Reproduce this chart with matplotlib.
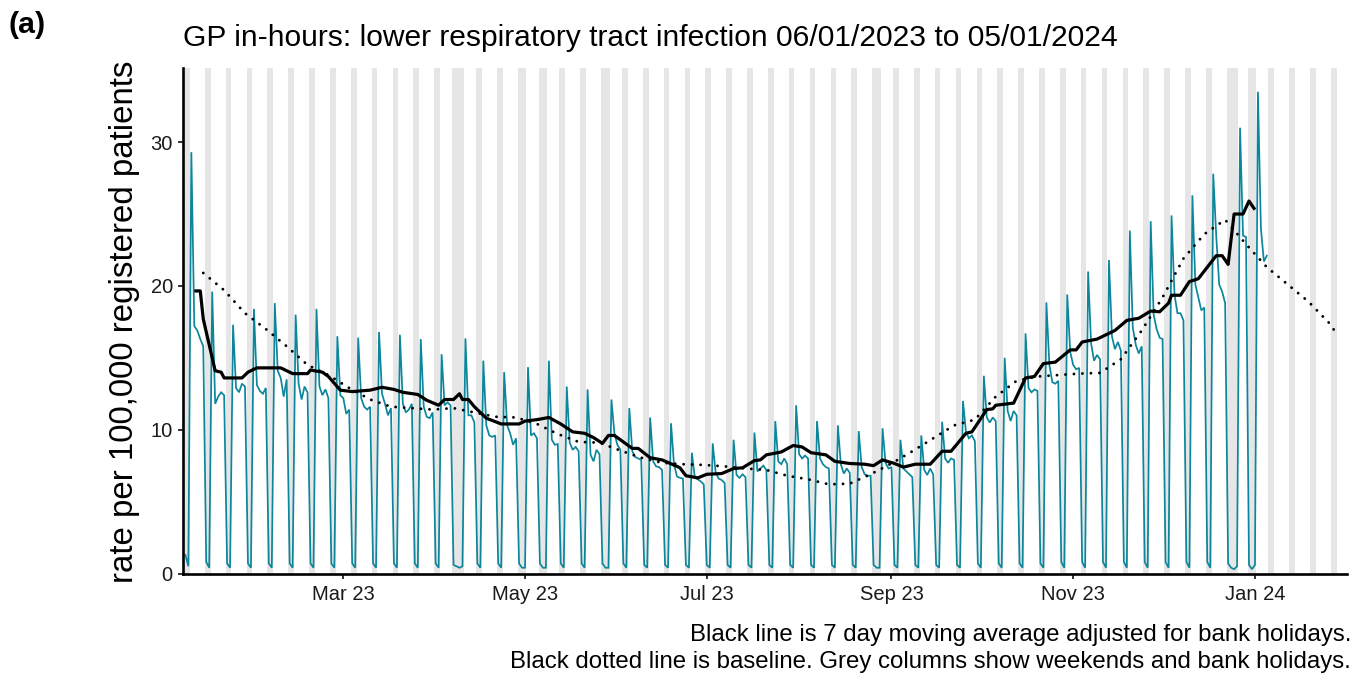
import numpy as np
import pandas as pd
import matplotlib
matplotlib.use("Agg")
import matplotlib.pyplot as plt
import matplotlib.dates as mdates

plt.rcParams['font.family'] = ['Liberation Sans', 'DejaVu Sans']

# ---------------- data ----------------
title = "GP in-hours: lower respiratory tract infection 06/01/2023 to 05/01/2024"
y_label = "rate per 100,000 registered patients"
footnote1 = "Black line is 7 day moving average adjusted for bank holidays."
footnote2 = "Black dotted line is baseline. Grey columns show weekends and bank holidays."
panel_tag = "(a)"

series_start = "2023-01-07"
rate_first_weekend = [1.3, 0.5]          # Sat 7 Jan, Sun 8 Jan 2023
# daily rate, one row per week: Mon, Tue, Wed, Thu, Fri, Sat, Sun
rate_weeks = [
    [29.3, 17.2, 16.9, 16.3, 15.8, 0.8, 0.4],   # 09 Jan
    [19.6, 11.8, 12.3, 12.6, 12.4, 0.7, 0.4],
    [17.3, 12.9, 12.6, 13.2, 13.0, 0.7, 0.4],
    [18.4, 13.1, 12.7, 12.5, 12.9, 0.7, 0.4],
    [18.8, 14.1, 13.6, 12.3, 13.5, 0.7, 0.4],   # 06 Feb
    [18.0, 13.2, 12.1, 13.0, 12.6, 0.7, 0.4],
    [18.4, 13.0, 12.4, 12.8, 12.2, 0.7, 0.4],
    [16.5, 12.4, 12.2, 11.1, 11.4, 0.7, 0.4],
    [16.4, 12.2, 11.6, 11.4, 11.6, 0.7, 0.4],   # 06 Mar
    [16.8, 12.5, 11.8, 11.0, 11.5, 0.7, 0.4],
    [16.6, 11.8, 11.2, 11.4, 11.8, 0.7, 0.4],
    [16.3, 11.6, 10.9, 10.8, 11.2, 0.7, 0.4],
    [15.25, 11.7, 11.9, 11.7, 0.6, 0.5, 0.4],   # 03 Apr
    [0.5, 16.35, 11.0, 11.0, 10.5, 0.7, 0.4],
    [14.8, 10.3, 9.6, 9.5, 9.6, 0.7, 0.4],
    [14.0, 10.3, 9.75, 8.95, 9.4, 0.7, 0.4],
    [0.4, 14.35, 9.6, 9.75, 9.4, 0.7, 0.4],     # 01 May
    [0.4, 14.8, 9.3, 8.95, 9.0, 0.7, 0.4],
    [13.0, 9.1, 8.6, 8.8, 8.5, 0.7, 0.4],
    [12.8, 8.25, 7.8, 8.6, 8.3, 0.7, 0.4],
    [0.4, 12.1, 9.75, 8.95, 8.6, 0.7, 0.4],
    [11.5, 8.5, 8.1, 8.0, 7.9, 0.6, 0.4],       # 05 Jun
    [10.85, 7.8, 7.45, 7.4, 7.2, 0.6, 0.4],
    [10.45, 7.6, 6.75, 6.65, 6.6, 0.6, 0.4],
    [8.4, 6.65, 6.55, 6.4, 6.2, 0.6, 0.4],
    [9.05, 7.0, 6.6, 6.5, 6.3, 0.6, 0.4],       # 03 Jul
    [9.3, 6.85, 6.65, 6.9, 6.7, 0.6, 0.4],
    [9.8, 7.1, 7.3, 7.5, 7.2, 0.6, 0.4],
    [10.6, 7.8, 7.6, 8.0, 7.6, 0.6, 0.4],
    [11.7, 8.3, 8.0, 8.2, 8.0, 0.6, 0.4],
    [10.6, 8.0, 7.6, 7.4, 7.3, 0.6, 0.4],       # 07 Aug
    [10.3, 7.6, 6.95, 7.3, 7.0, 0.6, 0.4],
    [9.9, 7.4, 6.9, 6.8, 6.8, 0.6, 0.4],
    [0.4, 10.1, 7.7, 7.3, 7.4, 0.6, 0.4],
    [9.3, 7.3, 7.1, 6.9, 6.7, 0.6, 0.4],        # 04 Sep
    [9.6, 7.2, 6.85, 7.3, 6.9, 0.6, 0.4],
    [10.55, 8.0, 7.7, 8.0, 7.9, 0.6, 0.4],
    [12.0, 9.85, 9.4, 9.6, 9.2, 0.7, 0.4],
    [13.75, 10.85, 10.5, 10.85, 10.6, 0.7, 0.4],  # 02 Oct
    [15.0, 11.3, 10.6, 11.3, 11.0, 0.7, 0.4],
    [16.7, 12.9, 12.6, 12.8, 12.7, 0.7, 0.4],
    [18.85, 14.5, 13.3, 13.2, 13.4, 0.8, 0.4],
    [19.4, 15.4, 14.5, 14.2, 14.3, 0.8, 0.4],
    [21.0, 16.0, 14.8, 15.2, 14.9, 0.8, 0.4],   # 06 Nov
    [21.8, 16.5, 15.6, 16.1, 15.5, 0.8, 0.4],
    [23.85, 17.1, 15.9, 15.3, 15.8, 0.8, 0.4],
    [24.5, 18.0, 17.0, 16.4, 16.3, 0.8, 0.4],
    [24.9, 19.4, 18.1, 18.1, 17.6, 0.8, 0.4],   # 04 Dec
    [26.3, 20.1, 19.2, 18.3, 18.5, 0.8, 0.4],
    [27.8, 23.5, 20.1, 19.6, 18.8, 0.7, 0.4],
    [0.3, 0.5, 31.0, 23.5, 23.4, 0.6, 0.3],
    [0.6, 33.5, 24.0, 21.7, 22.1],              # 01 Jan 2024
]

bank_holidays = ["2023-04-07", "2023-04-10", "2023-05-01", "2023-05-08",
                 "2023-05-29", "2023-08-28", "2023-12-25", "2023-12-26",
                 "2024-01-01"]
grey_start = "2023-01-07"
grey_end = "2024-01-28"

ma_dates = ["2023-01-10", "2023-01-12", "2023-01-13", "2023-01-15", "2023-01-17",
            "2023-01-19", "2023-01-20", "2023-01-26", "2023-01-28", "2023-01-31",
            "2023-02-08", "2023-02-12", "2023-02-17", "2023-02-18", "2023-02-22",
            "2023-02-24", "2023-02-28", "2023-03-04", "2023-03-10", "2023-03-14",
            "2023-03-18", "2023-03-21", "2023-03-26", "2023-03-29", "2023-04-02",
            "2023-04-04", "2023-04-07", "2023-04-09", "2023-04-10", "2023-04-12",
            "2023-04-14", "2023-04-18", "2023-04-23", "2023-04-29", "2023-05-01",
            "2023-05-05", "2023-05-09", "2023-05-13", "2023-05-17", "2023-05-21",
            "2023-05-24", "2023-05-27", "2023-05-29", "2023-05-31", "2023-06-02",
            "2023-06-06", "2023-06-08", "2023-06-12", "2023-06-16", "2023-06-21",
            "2023-06-22", "2023-06-24", "2023-06-28", "2023-07-01", "2023-07-06",
            "2023-07-10", "2023-07-13", "2023-07-17", "2023-07-19", "2023-07-21",
            "2023-07-26", "2023-07-30", "2023-08-02", "2023-08-05", "2023-08-10",
            "2023-08-13", "2023-08-18", "2023-08-23", "2023-08-26", "2023-08-29",
            "2023-09-02", "2023-09-05", "2023-09-07", "2023-09-09", "2023-09-14",
            "2023-09-18", "2023-09-21", "2023-09-26", "2023-09-28", "2023-10-03",
            "2023-10-05", "2023-10-06", "2023-10-12", "2023-10-16", "2023-10-19",
            "2023-10-22", "2023-10-26", "2023-10-31", "2023-11-02", "2023-11-04",
            "2023-11-09", "2023-11-15", "2023-11-19", "2023-11-23", "2023-11-27",
            "2023-11-30", "2023-12-03", "2023-12-04", "2023-12-07", "2023-12-10",
            "2023-12-13", "2023-12-16", "2023-12-19", "2023-12-21", "2023-12-23",
            "2023-12-25", "2023-12-28", "2023-12-30", "2024-01-01"]
ma_values = [19.65, 19.65, 17.7, 15.9, 14.1,
             14.0, 13.6, 13.6, 14.0, 14.3,
             14.3, 13.9, 13.9, 14.15, 14.0,
             13.7, 12.75, 12.65, 12.75, 12.95,
             12.8, 12.6, 12.45, 12.05, 11.7,
             12.1, 12.1, 12.5, 12.1, 12.1,
             11.6, 10.8, 10.4, 10.4, 10.6,
             10.7, 10.85, 10.4, 9.85, 9.75,
             9.45, 9.05, 9.6, 9.6, 9.3,
             8.7, 8.7, 8.05, 7.9, 7.45,
             7.35, 6.8, 6.65, 6.9, 6.95,
             7.3, 7.35, 7.85, 7.9, 8.25,
             8.45, 8.9, 8.8, 8.4, 8.25,
             7.8, 7.65, 7.6, 7.5, 7.9,
             7.65, 7.4, 7.5, 7.6, 7.6,
             8.5, 8.5, 9.75, 9.85, 11.4,
             11.45, 11.7, 11.85, 13.6, 13.7,
             14.6, 14.7, 15.55, 15.55, 16.1,
             16.3, 16.9, 17.6, 17.75, 18.25,
             18.2, 18.8, 19.35, 19.35, 20.3,
             20.5, 21.3, 22.1, 22.1, 21.5,
             25.0, 25.0, 25.9, 25.3]

baseline_dates = ["2023-01-13", "2023-01-20", "2023-01-27", "2023-02-03", "2023-02-10",
                  "2023-02-17", "2023-02-24", "2023-03-03", "2023-03-10", "2023-03-17",
                  "2023-03-24", "2023-03-31", "2023-04-07", "2023-04-14", "2023-04-21",
                  "2023-04-28", "2023-05-05", "2023-05-12", "2023-05-19", "2023-05-26",
                  "2023-06-02", "2023-06-09", "2023-06-16", "2023-06-23", "2023-06-30",
                  "2023-07-07", "2023-07-14", "2023-07-21", "2023-07-28", "2023-08-04",
                  "2023-08-11", "2023-08-18", "2023-08-25", "2023-09-01", "2023-09-08",
                  "2023-09-15", "2023-09-22", "2023-09-29", "2023-10-06", "2023-10-13",
                  "2023-10-20", "2023-10-27", "2023-11-03", "2023-11-10", "2023-11-17",
                  "2023-11-24", "2023-12-01", "2023-12-08", "2023-12-15", "2023-12-22",
                  "2023-12-29", "2024-01-05", "2024-01-12", "2024-01-19", "2024-01-26",
                  "2024-01-28"]
baseline_values = [20.9, 19.7, 18.1, 17.0, 15.8,
                   14.5, 13.8, 12.9, 12.1, 11.6,
                   11.5, 11.4, 11.5, 11.2, 10.9,
                   10.85, 10.4, 9.7, 9.15, 9.1,
                   8.55, 8.05, 7.7, 7.6, 7.55,
                   7.45, 7.3, 7.2, 6.8, 6.55,
                   6.2, 6.25, 6.9, 7.65, 8.5,
                   9.4, 10.3, 10.7, 12.3, 13.4,
                   13.7, 13.8, 13.9, 13.95, 14.9,
                   16.9, 19.2, 21.9, 23.6, 24.6,
                   22.9, 21.3, 20.1, 18.9, 17.4,
                   16.8]

x_ticks = ["2023-03-01", "2023-05-01", "2023-07-01", "2023-09-01", "2023-11-01", "2024-01-01"]
x_tick_labels = ["Mar 23", "May 23", "Jul 23", "Sep 23", "Nov 23", "Jan 24"]
y_ticks = [0, 10, 20, 30]

# ---------------- drawing ----------------
W, H = 1362, 682
fig = plt.figure(figsize=(W / 100, H / 100), dpi=100)
ax_left, ax_right, ax_top, ax_bottom = 183, 1347, 68, 573.5
ax = fig.add_axes([ax_left / W, 1 - ax_bottom / H,
                   (ax_right - ax_left) / W, (ax_bottom - ax_top) / H])

def dn(s):
    return mdates.date2num(pd.to_datetime(s))

# grey columns for weekends and bank holidays, merged into contiguous runs
all_days = pd.date_range(grey_start, grey_end, freq="D")
grey_days = sorted(set(all_days[all_days.dayofweek >= 5]) | set(pd.to_datetime(bank_holidays)))
grey_num = [mdates.date2num(d) for d in grey_days]
runs = []
for d in grey_num:
    if runs and d - runs[-1][1] <= 1.01:
        runs[-1][1] = d
    else:
        runs.append([d, d])
half = 0.45
ax.bar([r[0] - half for r in runs], 50, width=[r[1] - r[0] + 2 * half for r in runs],
       bottom=0, align="edge", color="#e6e6e6", linewidth=0, zorder=0)

# daily series
rate_values = list(rate_first_weekend) + [v for wk in rate_weeks for v in wk]
rate_dates = pd.date_range(series_start, periods=len(rate_values), freq="D")
ax.plot(mdates.date2num(rate_dates), rate_values, color="#0b869b", lw=1.25, zorder=2,
        solid_joinstyle="miter")

# baseline (dotted)
ax.plot(dn(baseline_dates), baseline_values, color="black", lw=2.1,
        linestyle=(0, (0.01, 2.9)), dash_capstyle="round", zorder=3)

# moving average
ax.plot(dn(ma_dates), ma_values, color="black", lw=2.3, zorder=4,
        solid_joinstyle="round", solid_capstyle="butt")

ax.set_xlim(dn("2023-01-06") + 0.2, dn("2024-01-31") + 0.9)
ax.set_ylim(0, (ax_bottom - ax_top) / 14.38)

ax.set_xticks(dn(x_ticks))
ax.set_xticklabels(x_tick_labels)
ax.set_yticks(y_ticks)
ax.set_yticklabels([str(v) for v in y_ticks])

for s in ["top", "right"]:
    ax.spines[s].set_visible(False)
for s in ["left", "bottom"]:
    ax.spines[s].set_linewidth(1.9)
    ax.spines[s].set_color("black")
    ax.spines[s].set_zorder(5)

ax.tick_params(axis="both", length=3.8, width=1.4, color="#333333",
               labelsize=14.5, labelcolor="#1a1a1a")
ax.tick_params(axis="x", pad=4.5)
ax.tick_params(axis="y", pad=3.5)

# texts
fig.text(ax_left / W, 1 - 46 / H, title, fontsize=21.6, ha="left", va="baseline", color="black")
fig.text(8 / W, 1 - 33 / H, panel_tag, fontsize=21.8, fontweight="bold",
         ha="left", va="baseline", color="black")
fig.text(125 / W, 1 - 322 / H, y_label, fontsize=23.8, rotation=90,
         ha="center", va="center", color="black")
fig.text(1351 / W, 1 - 641 / H, footnote1, fontsize=17.3, ha="right", va="baseline", color="black")
fig.text(1351 / W, 1 - 668 / H, footnote2, fontsize=17.3, ha="right", va="baseline", color="black")

fig.savefig("out.png", dpi=100)
